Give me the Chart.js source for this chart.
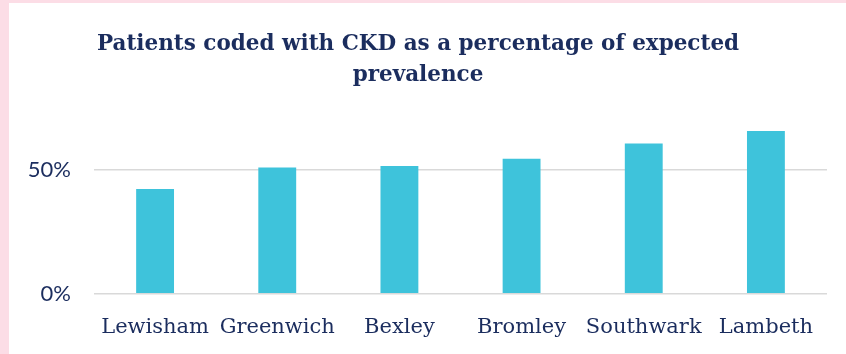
<!DOCTYPE html>
<html><head><meta charset="utf-8">
<script src="https://cdn.jsdelivr.net/npm/chart.js@4/dist/chart.umd.min.js"></script>
<style>
html,body{margin:0;padding:0;background:#fcdde6;width:846px;height:354px;overflow:hidden}
#wrap{position:absolute;left:9px;top:3px;width:837px;height:351px;background:#fff}
</style></head><body>
<div id="wrap"><canvas id="c" width="837" height="351"></canvas></div>
<script>
const categories = ["Lewisham","Greenwich","Bexley","Bromley","Southwark","Lambeth"];
const values = [42.2, 50.9, 51.5, 54.4, 60.5, 65.6];
const yTicks = [0, 50];
const titleLines = ["Patients coded with CKD as a percentage of expected","prevalence"];

const navy = "#1b2d5e";
new Chart(document.getElementById('c'), {
  type: 'bar',
  data: { labels: categories, datasets: [{ data: values, backgroundColor: '#3ec3db', borderWidth: 0,
    categoryPercentage: 1, barPercentage: 0.31 }] },
  options: {
    responsive: false, animation: false, devicePixelRatio: 1,
    layout: { padding: { left: 0, right: 19, top: 0, bottom: -7 } },
    plugins: {
      legend: { display: false }, tooltip: { enabled: false },
      title: { display: true, text: titleLines, color: navy,
        font: { family: 'DejaVu Serif', size: 21.5, weight: 'bold', lineHeight: 1.45 },
        padding: { top: 26, bottom: 28.6 } }
    },
    scales: {
      x: { grid: { display: false, drawTicks: false }, border: { display: false },
        ticks: { color: navy, padding: 21, maxRotation: 0, autoSkip: false,
          font: { family: 'DejaVu Serif', size: 21 } } },
      y: { min: 0, max: 70,
        afterBuildTicks: s => { s.ticks = yTicks.map(v => ({ value: v })); },
        afterFit: s => { s.width = 85; },
        grid: { color: '#d9d9d9', lineWidth: 1.5, drawTicks: false }, border: { display: false },
        ticks: { color: navy, padding: 23, callback: v => v + '%',
          font: { family: 'Lato', size: 22 } } }
    }
  }
});
</script></body></html>
